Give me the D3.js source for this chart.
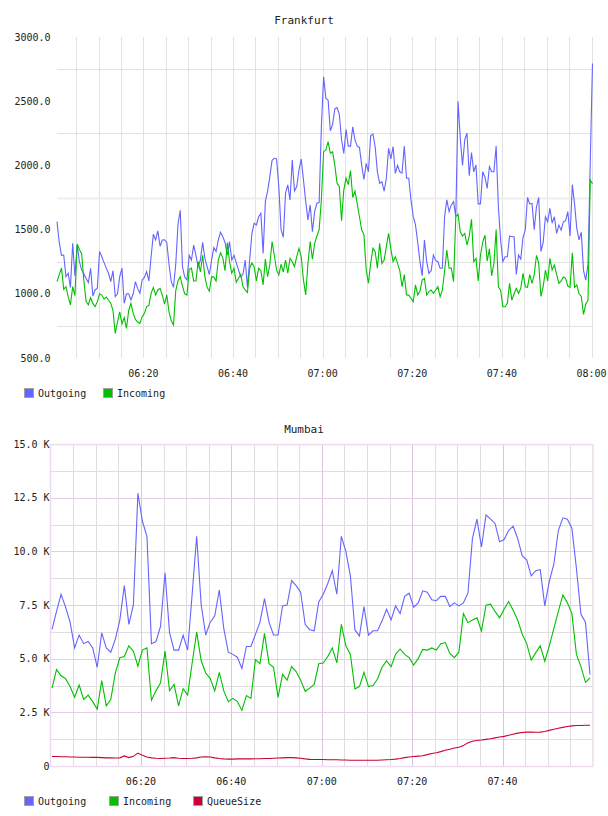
<!DOCTYPE html>
<html>
<head>
<meta charset="utf-8">
<script src="https://cdn.jsdelivr.net/npm/d3@7"></script>
<style>
  body { margin: 0; background: #fff; }
  svg text { font-family: "DejaVu Sans Mono", monospace; fill: #222; }
</style>
</head>
<body>
<div class="chart"></div>
<script>
// Frankfurt: one sample every 30 s starting 06:00:43
var fraStart = "06:00:43";
var fraStep = 30;
var fraOutgoing = [
  1562,1400,1300,1302,1133,1160,1050,1393,1139,1380,
  1250,1186,1154,1120,1087,1199,983,1030,1043,1330,
  1289,1243,1200,1160,1095,1180,978,1000,1133,1200,
  926,1000,1000,952,1000,1095,1040,1004,1108,1128,
  1173,1100,1289,1465,1419,1490,1370,1419,1420,1400,
  1230,1095,1050,1230,1540,1650,1212,1130,1108,1300,
  1263,1380,1300,1212,1263,1400,1276,1212,1150,1263,
  1360,1330,1419,1480,1445,1400,1300,1406,1263,1300,
  1243,1186,1133,1150,1263,1050,1263,1471,1549,1536,
  1600,1627,1315,1720,1800,1912,2040,2055,2050,1835,
  1500,1440,1783,1848,1731,2042,1800,1835,1964,2050,
  1887,1720,1575,1692,1484,1640,1705,1710,2300,2690,
  2522,2509,2270,2320,2440,2450,2400,2200,2094,2280,
  2150,2150,2300,2198,2150,2140,2000,1890,2016,1951,
  2230,2245,2146,1950,1860,1873,1800,1900,2133,2050,
  2146,1938,2000,1950,1940,2151,1900,1900,1730,1601,
  1536,1400,1250,1140,1419,1250,1160,1180,1302,1260,
  1250,1199,1199,1600,1731,1640,1692,1718,1600,2500,
  2210,2000,2200,2250,1920,2100,1950,2003,1700,1700,
  1950,1910,1820,1990,1950,1950,2150,1678,1420,1250,
  1289,1289,1450,1444,1444,1150,1302,1270,1440,1496,
  1750,1700,1704,1500,1678,1750,1330,1400,1600,1561,
  1665,1550,1600,1470,1535,1496,1560,1570,1639,1450,
  1850,1700,1510,1420,1480,1180,1107,1230,2016,2794
];
var fraIncoming = [
  1095,1150,1200,1035,1056,978,913,1056,985,1388,
  1345,1310,1100,940,915,970,925,900,939,1000,
  990,960,975,950,925,870,692,780,860,765,
  815,730,870,925,850,800,780,770,820,848,
  900,910,1004,1050,991,1030,1043,990,920,991,
  860,790,757,1025,1100,1133,1060,1000,990,1190,
  1200,1100,1100,1250,1170,1300,1133,1050,1020,1133,
  1130,1100,1263,1320,1280,1180,1400,1250,1160,1200,
  1090,1121,1150,1056,1030,1010,1200,1240,1212,1100,
  1199,1180,1070,1270,1133,1230,1406,1300,1186,1147,
  1230,1170,1263,1160,1276,1250,1212,1289,1354,1289,
  1108,991,1237,1406,1270,1393,1450,1500,1731,2107,
  2120,2185,2094,2107,2000,1860,1835,1570,1808,1900,
  1850,1960,1750,1800,1700,1600,1497,1460,1186,1082,
  1237,1354,1328,1200,1393,1237,1263,1367,1470,1350,
  1250,1289,1237,1180,1056,1150,991,990,965,939,
  1069,991,1020,1108,1120,991,1017,1030,1004,1030,
  1056,978,1030,1180,1341,1199,1200,1095,1600,1620,
  1483,1450,1470,1380,1450,1580,1250,1276,1100,1300,
  1400,1457,1255,1350,1140,1237,1500,1055,1029,900,
  899,925,1081,951,1000,1042,1003,1042,1159,1055,
  1050,1150,1081,1150,1300,1237,980,1055,1185,1100,
  1276,1185,1224,1150,1081,1100,1130,1120,1060,1050,
  1320,1050,1070,1000,980,840,920,950,1886,1857
];
var fraTicks = [500, 1000, 1500, 2000, 2500, 3000];

// Mumbai: one sample per minute starting 06:00:20, values in K
var mumStart = "06:00:20";
var mumStep = 60;
var mumOutgoing = [
  6.36,7.2,8.0,7.4,6.7,5.5,6.1,5.7,5.8,5.5,
  4.6,6.2,5.5,5.3,5.9,6.8,8.4,6.6,7.5,12.7,
  11.4,10.7,5.7,5.8,6.5,9.0,6.2,5.4,5.4,6.1,
  5.4,8.0,10.7,7.5,6.1,6.7,7.0,8.2,6.4,5.3,
  5.2,5.07,4.54,5.57,5.57,6.13,6.7,7.8,6.7,6.1,
  6.1,7.46,7.5,8.64,8.4,8.1,6.6,6.35,6.3,7.64,
  8.0,8.5,9.1,8.0,10.7,10.0,8.86,6.35,6.05,7.43,
  6.1,6.3,6.3,6.75,7.3,6.8,7.46,7.1,7.9,8.05,
  7.4,7.6,8.16,8.1,7.74,7.7,7.9,7.9,7.43,7.6,
  7.46,7.6,8.05,10.6,11.5,10.2,11.7,11.5,11.3,10.45,
  10.55,10.97,11.17,10.6,9.8,9.6,8.86,9.1,9.15,7.46,
  8.6,9.4,10.97,11.56,11.5,11.08,9.2,7.07,6.7,4.26
];
var mumIncoming = [
  3.63,4.49,4.2,4.07,3.7,3.2,3.77,3.1,3.3,3.0,
  2.65,3.98,2.8,3.1,4.33,5.04,5.1,5.6,5.35,4.65,
  5.4,5.5,3.06,3.5,3.87,5.35,3.5,3.8,2.8,3.6,
  3.3,4.8,6.24,4.9,4.33,4.07,3.5,4.36,3.5,3.0,
  3.15,3.0,2.59,3.28,3.15,4.96,4.77,6.18,4.77,4.6,
  3.2,4.27,4.0,4.63,4.4,4.0,3.48,3.63,3.8,4.76,
  4.8,5.1,5.5,4.8,6.6,5.6,5.2,3.59,3.7,4.36,
  3.7,3.75,4.05,4.6,4.9,4.63,5.2,5.45,5.2,5.05,
  4.7,5.0,5.43,5.4,5.5,5.4,5.7,5.75,5.24,5.05,
  5.3,7.1,6.68,6.8,6.9,6.29,7.49,7.54,7.2,6.9,
  7.3,7.66,7.25,6.8,6.15,5.7,4.93,5.28,5.6,4.88,
  5.6,6.4,7.2,7.97,7.6,7.1,5.2,4.63,3.9,4.1
];
var mumQueue = [
  0.44,0.44,0.43,0.43,0.42,0.42,0.41,0.41,0.41,0.40,
  0.40,0.39,0.38,0.38,0.37,0.38,0.47,0.39,0.45,0.60,
  0.50,0.42,0.38,0.36,0.35,0.36,0.37,0.39,0.36,0.35,
  0.35,0.36,0.38,0.42,0.43,0.42,0.38,0.35,0.33,0.32,
  0.32,0.33,0.33,0.33,0.33,0.34,0.34,0.35,0.35,0.36,
  0.37,0.38,0.39,0.39,0.38,0.36,0.33,0.31,0.30,0.30,
  0.30,0.29,0.29,0.29,0.28,0.28,0.27,0.27,0.27,0.27,
  0.27,0.27,0.27,0.28,0.29,0.30,0.32,0.35,0.39,0.42,
  0.44,0.46,0.48,0.53,0.58,0.62,0.67,0.73,0.78,0.84,
  0.87,0.95,1.08,1.15,1.19,1.21,1.24,1.27,1.31,1.35,
  1.38,1.43,1.48,1.53,1.56,1.58,1.58,1.57,1.58,1.61,
  1.66,1.71,1.76,1.80,1.84,1.87,1.89,1.89,1.90,1.90
];
var mumTicks = [0, 2.5, 5, 7.5, 10, 12.5, 15];
var timeLabels = ["06:20", "06:40", "07:00", "07:20", "07:40", "08:00"];

var colors = { Outgoing: "#6464ff", Incoming: "#00c000", QueueSize: "#cc0033" };

var parse = d3.timeParse("%H:%M:%S");
var fmt = d3.timeFormat("%H:%M");

function times(start, step, n) {
  var t0 = parse(start);
  return d3.range(n).map(function(i){ return new Date(+t0 + i * step * 1000); });
}

const svg = d3.select(".chart").append("svg")
  .attr("width", 608)
  .attr("height", 816);

// ---------- Frankfurt ----------
var fra = {left:57, right:593, top:37, bottom:358};
var fraT = times(fraStart, fraStep, fraOutgoing.length);

var x1 = d3.scaleTime()
  .domain([parse("06:00:43"), parse("08:00:20")])
  .range([fra.left, fra.right]);
var y1 = d3.scaleLinear()
  .domain([500, 3000])
  .range([fra.bottom, fra.top]);

var g1 = svg.append("g");

svg.append("text")
  .attr("x", 304).attr("y", 24)
  .attr("text-anchor", "middle")
  .attr("font-size", 11)
  .text("Frankfurt");

// vertical grid every 5 minutes
g1.selectAll("line.vg")
  .data(d3.timeMinute.every(5).range(parse("06:05:00"), parse("08:00:30")))
  .enter().append("line")
    .attr("x1", function(d){ return Math.round(x1(d)) + 0.5; })
    .attr("x2", function(d){ return Math.round(x1(d)) + 0.5; })
    .attr("y1", fra.top).attr("y2", fra.bottom)
    .attr("stroke", "#e2e2e2");

// horizontal grid sits between the labels
g1.selectAll("line.hg")
  .data([750, 1250, 1750, 2250, 2750])
  .enter().append("line")
    .attr("x1", fra.left).attr("x2", fra.right)
    .attr("y1", function(d){ return Math.round(y1(d)) + 0.5; })
    .attr("y2", function(d){ return Math.round(y1(d)) + 0.5; })
    .attr("stroke", function(d){ return d === 1750 ? "#eeeeee" : "#e2e2e2"; })
    .attr("stroke-width", function(d){ return d === 1750 ? 2 : 1; });

g1.selectAll("text.yl")
  .data(fraTicks)
  .enter().append("text")
    .attr("x", 50.5)
    .attr("y", function(d){ return y1(d) + 3.6; })
    .attr("text-anchor", "end")
    .attr("font-size", 10)
    .text(function(d){ return d.toFixed(1); });

g1.selectAll("text.xl")
  .data(timeLabels)
  .enter().append("text")
    .attr("x", function(d){ return x1(d3.timeParse("%H:%M")(d)); })
    .attr("y", 377)
    .attr("text-anchor", "middle")
    .attr("font-size", 10)
    .text(function(d){ return d; });

var line1 = d3.line()
  .x(function(d, i){ return x1(fraT[i]); })
  .y(function(d){ return y1(d); });

[["Outgoing", fraOutgoing], ["Incoming", fraIncoming]].forEach(function(s){
  g1.append("path")
    .attr("fill", "none")
    .attr("stroke", colors[s[0]])
    .attr("stroke-width", 1.1)
    .attr("d", line1(s[1]));
});

// ---------- Mumbai ----------
var mum = {left:50.5, right:593, top:444, bottom:766};
var mumT = times(mumStart, mumStep, mumOutgoing.length);

var x2 = d3.scaleTime()
  .domain([parse("06:00:00"), parse("08:00:00")])
  .range([mum.left, mum.right]);
var y2 = d3.scaleLinear()
  .domain([0, 15])
  .range([mum.bottom, mum.top]);

var g2 = svg.append("g");

svg.append("text")
  .attr("x", 304).attr("y", 433)
  .attr("text-anchor", "middle")
  .attr("font-size", 11)
  .text("Mumbai");

var minorV = d3.timeMinute.every(5).range(parse("06:05:00"), parse("08:00:00"))
  .filter(function(d){ return d.getMinutes() % 20 !== 0; });
var majorV = d3.timeMinute.every(20).range(parse("06:20:00"), parse("08:00:00"));

g2.selectAll("line.mv")
  .data(minorV)
  .enter().append("line")
    .attr("x1", function(d){ return Math.round(x2(d)) + 0.5; })
    .attr("x2", function(d){ return Math.round(x2(d)) + 0.5; })
    .attr("y1", mum.top).attr("y2", mum.bottom)
    .attr("stroke", "#e0dce0");

g2.selectAll("line.mh")
  .data(d3.range(1.25, 15, 2.5))
  .enter().append("line")
    .attr("x1", mum.left).attr("x2", mum.right)
    .attr("y1", function(d){ return Math.round(y2(d)) + 0.5; })
    .attr("y2", function(d){ return Math.round(y2(d)) + 0.5; })
    .attr("stroke", "#e0dce0");

g2.selectAll("line.Mv")
  .data(majorV)
  .enter().append("line")
    .attr("x1", function(d){ return Math.round(x2(d)) + 0.5; })
    .attr("x2", function(d){ return Math.round(x2(d)) + 0.5; })
    .attr("y1", mum.top).attr("y2", mum.bottom)
    .attr("stroke", "#dcc4dc");

g2.selectAll("line.Mh")
  .data(mumTicks.slice(1, -1))
  .enter().append("line")
    .attr("x1", mum.left).attr("x2", mum.right)
    .attr("y1", function(d){ return Math.round(y2(d)) + 0.5; })
    .attr("y2", function(d){ return Math.round(y2(d)) + 0.5; })
    .attr("stroke", "#e6cce6");

g2.append("rect")
  .attr("x", mum.left).attr("y", mum.top + 0.5)
  .attr("width", mum.right - mum.left)
  .attr("height", mum.bottom - mum.top)
  .attr("fill", "none")
  .attr("stroke", "#eedcee")
  .attr("stroke-width", 1.5);

g2.selectAll("text.yl")
  .data(mumTicks)
  .enter().append("text")
    .attr("x", 49.5)
    .attr("y", function(d){ return y2(d) + 3.6; })
    .attr("text-anchor", "end")
    .attr("font-size", 10)
    .text(function(d){ return d === 0 ? "0" : d.toFixed(1) + " K"; });

g2.selectAll("text.xl")
  .data(timeLabels.slice(0, 5))
  .enter().append("text")
    .attr("x", function(d){ return x2(d3.timeParse("%H:%M")(d)); })
    .attr("y", 785)
    .attr("text-anchor", "middle")
    .attr("font-size", 10)
    .text(function(d){ return d; });

var line2 = d3.line()
  .x(function(d, i){ return x2(mumT[i]); })
  .y(function(d){ return y2(d); });

[["Outgoing", mumOutgoing], ["Incoming", mumIncoming], ["QueueSize", mumQueue]].forEach(function(s){
  g2.append("path")
    .attr("fill", "none")
    .attr("stroke", colors[s[0]])
    .attr("stroke-width", 1.1)
    .attr("d", line2(s[1]));
});

// ---------- legends ----------
function legend(items, xs, y) {
  var lg = svg.append("g");
  items.forEach(function(name, i){
    lg.append("rect")
      .attr("x", xs[i] + 0.5).attr("y", y - 8.5)
      .attr("width", 9).attr("height", 9)
      .attr("fill", colors[name])
      .attr("stroke", "#a0a0a0");
    lg.append("text")
      .attr("x", xs[i] + 14).attr("y", y)
      .attr("font-size", 10)
      .text(name);
  });
}
legend(["Outgoing", "Incoming"], [24, 103], 397);
legend(["Outgoing", "Incoming", "QueueSize"], [24, 109, 193], 805);
</script>
</body>
</html>
